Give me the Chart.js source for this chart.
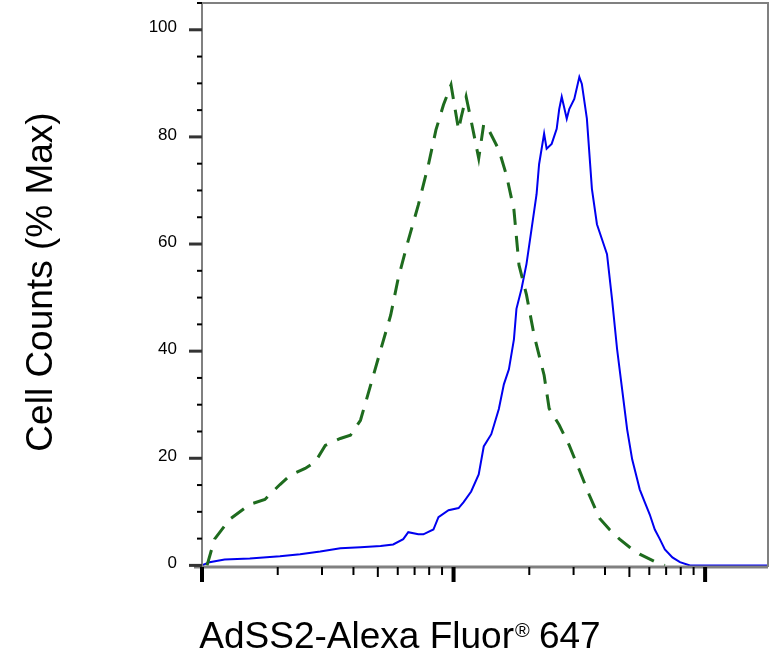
<!DOCTYPE html><html><head><script src="https://cdn.jsdelivr.net/npm/chart.js@4"></script>
<style>body{margin:0;background:#fff}#w{width:784px;height:665px}</style></head><body><div id="w"><canvas id="c"></canvas></div>
<script>
// x values are log10 of fluorescence intensity
const blueLogX=[0,.03,.09,.19,.31,.39,.47,.55,.63,.71,.76,.80,.82,.86,.88,.92,.94,.98,1.02,1.04,1.07,1.10,1.12,1.15,1.18,1.20,1.22,1.24,1.25,1.27,1.29,1.31,1.33,1.34,1.36,1.37,1.39,1.41,1.42,1.43,1.45,1.46,1.48,1.50,1.51,1.53,1.55,1.57,1.59,1.61,1.63,1.65,1.67,1.69,1.71,1.73,1.74,1.76,1.78,1.80,1.82,1.84,1.87,1.90,1.94,2.25];
const blueY=[0,0.6,1.1,1.3,1.7,2.1,2.6,3.2,3.4,3.6,3.9,4.9,6.2,5.8,5.8,6.7,9.0,10.3,10.7,11.8,13.8,17.0,22.2,24.5,29.2,33.8,36.6,42.2,47.9,51.6,56.3,62.8,69.3,74.9,80.6,77.8,78.7,81.5,85.2,87.5,83.4,85.2,87.1,91.2,89.9,83.4,70.3,63.7,60.9,58.1,49.7,40.4,32.9,25.4,19.8,16.1,14.2,11.8,9.5,6.7,4.9,3.0,1.5,0.6,0,0];
const greenLogX=[.02,.05,.11,.19,.25,.31,.35,.41,.45,.49,.55,.59,.63,.67,.71,.75,.78,.82,.86,.90,.93,.96,.99,1.02,1.03,1.05,1.07,1.10,1.12,1.14,1.18,1.21,1.24,1.26,1.29,1.32,1.36,1.38,1.42,1.46,1.50,1.54,1.58,1.62,1.66,1.70,1.74,1.80,1.84];
const greenY=[0,4.9,8.6,11.4,12.3,15.1,16.8,18.1,19.3,22.4,23.7,24.3,27.1,33.6,40.2,46.7,53.6,60.7,67.3,74.8,81.3,86.0,89.7,81.3,83.6,87.5,83.0,76.0,82.4,81.3,77.6,72.9,66.4,56.1,50.5,43.0,35.5,29.3,26.2,22.4,17.8,13.1,8.8,6.7,4.9,3.4,2.1,0.7,0];
const yTickLabels=["0","20","40","60","80","100"];
const xTitle="AdSS2-Alexa Fluor", xTitleSup="®", xTitleEnd=" 647";
const yTitle="Cell Counts (% Max)";
const pts=(xs,ys)=>xs.map((x,i)=>({x,y:ys[i]}));
const F='"Liberation Sans", Arial, sans-serif';
const deco={id:'deco',afterDraw(ch){const c=ch.ctx,a=ch.chartArea,xs=ch.scales.x,ys=ch.scales.y;c.save();
c.strokeStyle='#808080';c.lineWidth=2;c.beginPath();c.moveTo(a.left,a.bottom);c.lineTo(a.left,a.top);c.lineTo(a.right,a.top);c.lineTo(a.right,a.bottom);c.stroke();
c.lineWidth=3;c.beginPath();c.moveTo(a.left-8,a.bottom);c.lineTo(a.right,a.bottom);c.stroke();
c.fillStyle='#000';c.strokeStyle='#000';
for(let v=0;v<=105;v+=5){const y=ys.getPixelForValue(v);const maj=v%20==0;c.lineWidth=maj?3:2;c.strokeStyle=maj?'#333':'#000';c.beginPath();c.moveTo(a.left-(maj?13:5),y);c.lineTo(a.left,y);c.stroke();}
c.font='17px '+F;c.textAlign='right';c.textBaseline='middle';
yTickLabels.forEach(t=>{c.fillText(t,177,ys.getPixelForValue(+t)-2);});
for(let d=0;d<3;d++)for(let m=1;m<10;m++){const lv=d+Math.log10(m);if(lv>2.25)break;const x=xs.getPixelForValue(lv);const maj=m==1;c.lineWidth=maj?4:2;c.beginPath();c.moveTo(x,a.bottom);c.lineTo(x,a.bottom+(maj?15:(m==5?10:8)));c.stroke();}
c.font='37px '+F;c.textAlign='left';c.textBaseline='alphabetic';
const w1=c.measureText(xTitle).width;c.font='20px '+F;const w2=c.measureText(xTitleSup).width;c.font='37px '+F;const w3=c.measureText(xTitleEnd).width;
let sx=400-(w1+w2+w3)/2;c.fillText(xTitle,sx,648);c.font='20px '+F;c.fillText(xTitleSup,sx+w1+1,637);c.font='37px '+F;c.fillText(xTitleEnd,sx+w1+w2,648);
c.translate(52,282);c.rotate(-Math.PI/2);c.textAlign='center';c.fillText(yTitle,0,0);
c.restore();}};
new Chart(document.getElementById('c'),{type:'line',data:{datasets:[
{data:pts(greenLogX,greenY),borderColor:'#1e6b1e',borderWidth:3,borderDash:[16,11],pointRadius:0,tension:0},
{data:pts(blueLogX,blueY),borderColor:'#0000f0',borderWidth:2,pointRadius:0,tension:0}]},
options:{responsive:true,maintainAspectRatio:false,animation:false,layout:{padding:{left:202,right:16,top:3,bottom:98}},
plugins:{legend:{display:false},tooltip:{enabled:false}},
scales:{x:{type:'linear',min:0,max:2.25,display:false},y:{min:-0.3,max:105,display:false}}},plugins:[deco]});
</script></body></html>
